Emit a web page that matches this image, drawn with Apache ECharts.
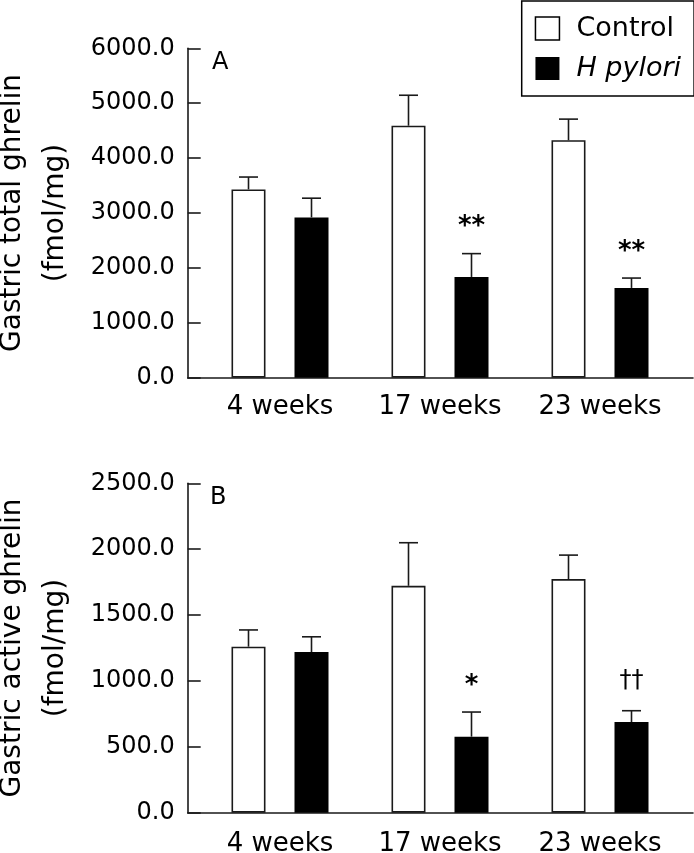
<!DOCTYPE html>
<html>
<head>
<meta charset="utf-8">
<script src="https://cdn.jsdelivr.net/npm/echarts@6/dist/echarts.min.js"></script>
<style>
html,body{margin:0;padding:0;background:#fff;}
#chart{width:694px;height:853px;}
</style>
</head>
<body>
<div id="chart"></div>
<script>
// ---- data ----
var categories = ['4 weeks', '17 weeks', '23 weeks'];
var seriesNames = ['Control', 'H pylori'];

var totalControl = [3430, 4590, 4325];
var totalControlErr = [225, 555, 385];
var totalHp = [2920, 1835, 1635];
var totalHpErr = [350, 425, 180];
var totalHpSig = ['', '**', '**'];

var activeControl = [1260, 1722, 1773];
var activeControlErr = [127, 327, 182];
var activeHp = [1219, 577, 688];
var activeHpErr = [116, 187, 86];
var activeHpSig = ['', '*', '\u2020\u2020'];

var totalTicks = {min: 0, max: 6000, interval: 1000};
var activeTicks = {min: 0, max: 2500, interval: 500};

// ---- style ----
var FONT = 'DejaVu Sans';
var BAR_W = 34;
var BAR_GAP = 29;
var OFF = (BAR_W + BAR_GAP) / 2;
var CAP = 19;
var AX = '#1a1a1a';

function errSeries(xi, yi, vals, errs, sigs, offset) {
  var data = vals.map(function (v, i) { return [i, v, errs[i]]; });
  return {
    type: 'custom',
    xAxisIndex: xi, yAxisIndex: yi,
    z: 5,
    silent: true,
    data: data,
    renderItem: function (params, api) {
      var i = api.value(0), v = api.value(1), e = api.value(2);
      var p0 = api.coord([i, v]);
      var p1 = api.coord([i, v + e]);
      var x = p0[0] + offset;
      var children = [
        {type: 'line', shape: {x1: x, y1: p0[1], x2: x, y2: p1[1]}, style: {stroke: AX, lineWidth: 1.6}},
        {type: 'line', shape: {x1: x - CAP / 2, y1: p1[1], x2: x + CAP / 2, y2: p1[1]}, style: {stroke: AX, lineWidth: 1.6}}
      ];
      var s = sigs ? sigs[params.dataIndex] : '';
      if (s) {
        var isDagger = s.indexOf('\u2020') >= 0;
        children.push({
          type: 'text',
          style: {
            text: s, x: x, y: p1[1] - (isDagger ? 18 : 13),
            align: 'center', verticalAlign: 'bottom',
            fontSize: isDagger ? 24 : 26, fontWeight: isDagger ? 'normal' : 'bold',
            fontFamily: FONT, fill: '#000'
          }
        });
      }
      return {type: 'group', children: children};
    }
  };
}

function yAxisOf(gi, name, t) {
  return {
    type: 'value', gridIndex: gi,
    min: t.min, max: t.max, interval: t.interval,
    offset: 12.3,
    name: name, nameLocation: 'middle', nameRotate: 90, nameGap: 110,
    nameTextStyle: {fontFamily: FONT, fontSize: 28, color: '#000', lineHeight: 43, align: 'center'},
    axisLine: {show: true, lineStyle: {color: AX, width: 1.6}},
    axisTick: {show: true, inside: true, length: 13, lineStyle: {color: AX, width: 1.6}},
    axisLabel: {
      margin: 13, fontFamily: FONT, fontSize: 24, color: '#000',
      formatter: function (v) { return v.toFixed(1); }
    },
    splitLine: {show: false}
  };
}

var gridH = 329.4;
var chart = echarts.init(document.getElementById('chart'), null, {renderer: 'canvas'});
var option = {
  animation: false,
  backgroundColor: '#fff',
  title: [
    {text: 'A', left: 212, top: 51, padding: 0, textStyle: {fontFamily: FONT, fontSize: 24, fontWeight: 'normal', color: '#000'}},
    {text: 'B', left: 210, top: 485.5, padding: 0, textStyle: {fontFamily: FONT, fontSize: 24, fontWeight: 'normal', color: '#000'}}
  ],
  legend: {
    orient: 'vertical', left: 521.7, top: 1,
    borderColor: '#000', borderWidth: 1.5,
    padding: [14, 13, 14, 13],
    itemGap: 13, itemWidth: 24, itemHeight: 23,
    icon: 'rect',
    align: 'left',
    data: [
      {name: 'Control', icon: 'rect', itemStyle: {color: '#fff', borderColor: '#000', borderWidth: 1.5}},
      {name: 'H pylori', icon: 'rect', itemStyle: {color: '#000', borderWidth: 0}}
    ],
    formatter: function (n) { return n === 'H pylori' ? '{i|' + n + '}' : '{n|' + n + '}'; },
    textStyle: {
      fontFamily: FONT, fontSize: 27, color: '#000', padding: [0, 0, 0, 12],
      rich: {
        n: {fontFamily: FONT, fontSize: 27, color: '#000'},
        i: {fontFamily: FONT, fontSize: 27, color: '#000', fontStyle: 'italic'}
      }
    }
  },
  grid: [
    {left: 200, right: 14, top: 48.3, height: gridH, outerBoundsMode: 'none', containLabel: false},
    {left: 187.7, right: 1, top: 48.3, height: gridH, outerBoundsMode: 'none', containLabel: false},
    {left: 200, right: 14, top: 483.3, height: gridH, outerBoundsMode: 'none', containLabel: false},
    {left: 187.7, right: 1, top: 483.3, height: gridH, outerBoundsMode: 'none', containLabel: false}
  ],
  xAxis: [
    {type: 'category', gridIndex: 0, data: categories, axisLine: {show: false}, axisTick: {show: false},
     axisLabel: {interval: 0, hideOverlap: false, margin: 17, fontFamily: FONT, fontSize: 26, color: '#000'}},
    {type: 'category', gridIndex: 1, data: [], axisLine: {show: true, onZero: false, lineStyle: {color: AX, width: 1.6}},
     axisTick: {show: false}, axisLabel: {show: false}},
    {type: 'category', gridIndex: 2, data: categories, axisLine: {show: false}, axisTick: {show: false},
     axisLabel: {interval: 0, hideOverlap: false, margin: 19, fontFamily: FONT, fontSize: 26, color: '#000'}},
    {type: 'category', gridIndex: 3, data: [], axisLine: {show: true, onZero: false, lineStyle: {color: AX, width: 1.6}},
     axisTick: {show: false}, axisLabel: {show: false}}
  ],
  yAxis: [
    yAxisOf(0, 'Gastric total ghrelin\n(fmol/mg)', totalTicks),
    {type: 'value', gridIndex: 1, show: false, min: 0, max: 1},
    yAxisOf(2, 'Gastric active ghrelin\n(fmol/mg)', activeTicks),
    {type: 'value', gridIndex: 3, show: false, min: 0, max: 1}
  ],
  series: [
    {name: seriesNames[0], type: 'bar', xAxisIndex: 0, yAxisIndex: 0, data: totalControl,
     barWidth: BAR_W, barGap: (BAR_GAP / BAR_W * 100) + '%',
     itemStyle: {color: '#fff', borderColor: AX, borderWidth: 1.6}},
    {name: seriesNames[1], type: 'bar', xAxisIndex: 0, yAxisIndex: 0, data: totalHp,
     barWidth: BAR_W, barGap: (BAR_GAP / BAR_W * 100) + '%',
     itemStyle: {color: '#000'}},
    errSeries(0, 0, totalControl, totalControlErr, null, -OFF),
    errSeries(0, 0, totalHp, totalHpErr, totalHpSig, OFF),
    {name: seriesNames[0], type: 'bar', xAxisIndex: 2, yAxisIndex: 2, data: activeControl,
     barWidth: BAR_W, barGap: (BAR_GAP / BAR_W * 100) + '%',
     itemStyle: {color: '#fff', borderColor: AX, borderWidth: 1.6}},
    {name: seriesNames[1], type: 'bar', xAxisIndex: 2, yAxisIndex: 2, data: activeHp,
     barWidth: BAR_W, barGap: (BAR_GAP / BAR_W * 100) + '%',
     itemStyle: {color: '#000'}},
    errSeries(2, 2, activeControl, activeControlErr, null, -OFF),
    errSeries(2, 2, activeHp, activeHpErr, activeHpSig, OFF)
  ]
};
chart.setOption(option);
</script>
</body>
</html>
